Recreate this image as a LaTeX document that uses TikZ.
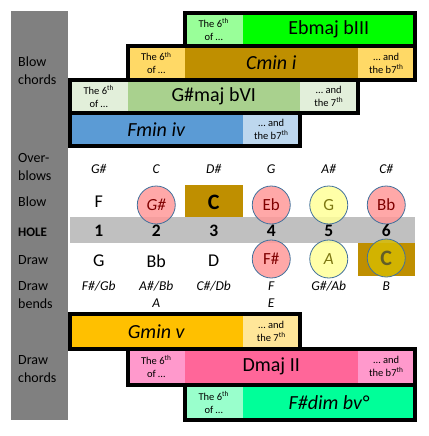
\documentclass[tikz,border=0pt]{standalone}
\usepackage{fontspec}
\setmainfont{Carlito}
\usepackage{tikz}

% Colours of the chord boxes
\definecolor{sidegray}{RGB}{128,128,128}
\definecolor{holegray}{RGB}{192,192,192}
\definecolor{ebdark}{RGB}{0,255,0}
\definecolor{eblight}{RGB}{153,255,153}
\definecolor{cmdark}{RGB}{191,143,0}
\definecolor{cmlight}{RGB}{255,217,102}
\definecolor{gsdark}{RGB}{169,209,142}
\definecolor{gslight}{RGB}{226,239,218}
\definecolor{fmdark}{RGB}{91,155,213}
\definecolor{fmlight}{RGB}{189,215,238}
\definecolor{gmdark}{RGB}{255,192,0}
\definecolor{gmlight}{RGB}{255,230,153}
\definecolor{dmdark}{RGB}{255,102,153}
\definecolor{dmlight}{RGB}{255,153,204}
\definecolor{fsdark}{RGB}{0,255,153}
\definecolor{fslight}{RGB}{153,255,204}
\definecolor{redring}{RGB}{255,153,153}
\definecolor{yelring}{RGB}{255,255,153}
\definecolor{goldring}{RGB}{214,186,0}
\definecolor{ringline}{RGB}{65,113,156}

\begin{document}
\begin{tikzpicture}[x=1pt,y=-1pt,
  side/.style={anchor=west,align=left,inner sep=0pt,font=\fontsize{14}{18}\selectfont},
  pitch/.style={inner sep=0pt,font=\fontsize{18}{20}\selectfont},
  bendtxt/.style={inner sep=0pt,font=\fontsize{13.5}{16}\selectfont\itshape},
  holeno/.style={inner sep=0pt,font=\fontsize{17.5}{20}\selectfont\bfseries},
  small/.style={inner sep=0pt,align=center,font=\fontsize{10.5}{13}\selectfont},
  chord/.style={inner sep=0pt,font=\fontsize{20}{22}\selectfont},
  box/.style={draw=black,line width=4pt},
  ring/.style={circle,minimum size=38pt,inner sep=0pt,draw=ringline,line width=0.8pt,
    fill opacity=0.85,text opacity=1,font=\fontsize{17}{20}\selectfont}]

\useasboundingbox (0,0) rectangle (428,436);

% Geometry constants
\def\xo{70}        % left edge of hole 1
\def\cw{57.5}      % column width

% Side column and hole band
\fill[sidegray] (11,11) rectangle (68,420);
\fill[holegray] (70,217) rectangle (415,243);

\node[side] (lblowch) at (18,71) {Blow\\chords};
\node[side] (lover) at (18,167) {Over-\\blows};
\node[side] (lblow) at (18,202) {Blow};
\node[side,font=\fontsize{13}{16}\selectfont\bfseries] (lhole) at (18,232) {HOLE};
\node[side] (ldraw) at (18,260) {Draw};
\node[side] (lbends) at (18,295) {Draw\\bends};
\node[side] (ldrawch) at (18,369) {Draw\\chords};

% Gold cells behind blow 3 and draw 6
\fill[cmdark] (185,185) rectangle (242.5,217);
\fill[cmdark] (357.5,243) rectangle (415,276);

% Rings
\node[ring,fill=redring,text=red!50!black] (b2) at (156.25,205) {\itshape G\#};
\node[ring,fill=redring,text=red!50!black] (b4) at (271.25,205) {Eb};
\node[ring,fill=yelring,text=olive!85!black] (b5) at (328.75,205) {G};
\node[ring,fill=redring,text=red!50!black] (b6) at (386.25,205) {Bb};
\node[ring,fill=redring,text=red!50!black] (d4) at (271.25,259) {F\#};
\node[ring,fill=yelring,text=olive!85!black] (d5) at (328.75,259) {\itshape A};
\node[ring,fill=goldring,text=olive!60!black,font=\fontsize{22}{24}\selectfont\bfseries] (d6) at (386.25,258) {C};

% Over-blows, blow, holes, draw and bends
\foreach \t [count=\i] in {G\#,C,D\#,G,A\#,C\#}
  \node[bendtxt] (ob\i) at (\xo+\i*\cw-\cw/2,169) {\t};
\node[pitch] (b1) at (98.75,202) {F};
\node[pitch,font=\fontsize{22}{24}\selectfont\bfseries] (b3) at (213.75,202) {C};
\foreach \i in {1,...,6}
  \node[holeno] (h\i) at (\xo+\i*\cw-\cw/2,231) {\i};
\node[pitch] (d1) at (98.75,261) {G};
\node[pitch] (d2) at (156.25,261) {Bb};
\node[pitch] (d3) at (213.75,261) {D};
\foreach \t [count=\i] in {F\#/Gb,A\#/Bb,C\#/Db,F,G\#/Ab,B}
  \node[bendtxt] (db\i) at (\xo+\i*\cw-\cw/2,286) {\t};
\node[bendtxt] (dbb2) at (156.25,303) {A};
\node[bendtxt] (dbb4) at (271.25,303) {E};

% Blow chords
\fill[eblight] (185,13) rectangle (242.5,46.3);
\fill[ebdark] (242.5,13) rectangle (415,46.3);
\node[small] (eb6) at (213.75,29.6) {The 6\textsuperscript{th}\\of …};
\node[chord] (ebmaj) at (328.75,29.6) {Ebmaj bIII};

\fill[cmlight] (127.5,46.3) rectangle (185,79.6);
\fill[cmdark] (185,46.3) rectangle (357.5,79.6);
\fill[cmlight] (357.5,46.3) rectangle (415,79.6);
\node[small] (cm6) at (156.25,63) {The 6\textsuperscript{th}\\of …};
\node[chord,font=\fontsize{20}{22}\selectfont\itshape] (cmin) at (271.25,63) {Cmin i};
\node[small] (cm7) at (386.25,63) {… and\\the b7\textsuperscript{th}};

\fill[gslight] (70,79.6) rectangle (127.5,112.9);
\fill[gsdark] (127.5,79.6) rectangle (300,112.9);
\fill[gslight] (300,79.6) rectangle (357.5,112.9);
\node[small] (gs6) at (98.75,96.2) {The 6\textsuperscript{th}\\of …};
\node[chord] (gsmaj) at (213.75,96.2) {G\#maj bVI};
\node[small] (gs7) at (328.75,96.2) {… and\\the 7\textsuperscript{th}};

\fill[fmdark] (70,112.9) rectangle (242.5,146.2);
\fill[fmlight] (242.5,112.9) rectangle (300,146.2);
\node[chord,font=\fontsize{20}{22}\selectfont\itshape] (fmin) at (156.25,129.5) {Fmin iv};
\node[small] (fm7) at (271.25,129.5) {… and\\the b7\textsuperscript{th}};

\draw[box] (185,13) rectangle (415,46.3);
\draw[box] (127.5,46.3) rectangle (415,79.6);
\draw[box] (70,79.6) rectangle (357.5,112.9);
\draw[box] (70,112.9) rectangle (300,146.2);

% Draw chords
\fill[gmdark] (70,314) rectangle (242.5,349);
\fill[gmlight] (242.5,314) rectangle (300,349);
\node[chord,font=\fontsize{20}{22}\selectfont\itshape] (gmin) at (156.25,331.5) {Gmin v};
\node[small] (gm7) at (271.25,331.5) {… and\\the 7\textsuperscript{th}};

\fill[dmlight] (127.5,349) rectangle (185,384.5);
\fill[dmdark] (185,349) rectangle (357.5,384.5);
\fill[dmlight] (357.5,349) rectangle (415,384.5);
\node[small] (dm6) at (156.25,366.7) {The 6\textsuperscript{th}\\of …};
\node[chord] (dmaj) at (271.25,366.7) {Dmaj II};
\node[small] (dm7) at (386.25,366.7) {… and\\the b7\textsuperscript{th}};

\fill[fslight] (185,384.5) rectangle (242.5,420);
\fill[fsdark] (242.5,384.5) rectangle (415,420);
\node[small] (fs6) at (213.75,402.2) {The 6\textsuperscript{th}\\of …};
\node[chord,font=\fontsize{20}{22}\selectfont\itshape] (fsdim) at (328.75,402.2) {F\#dim bv°};

\draw[box] (70,314) rectangle (300,349);
\draw[box] (127.5,349) rectangle (415,384.5);
\draw[box] (185,384.5) rectangle (415,420);

\end{tikzpicture}
\end{document}
